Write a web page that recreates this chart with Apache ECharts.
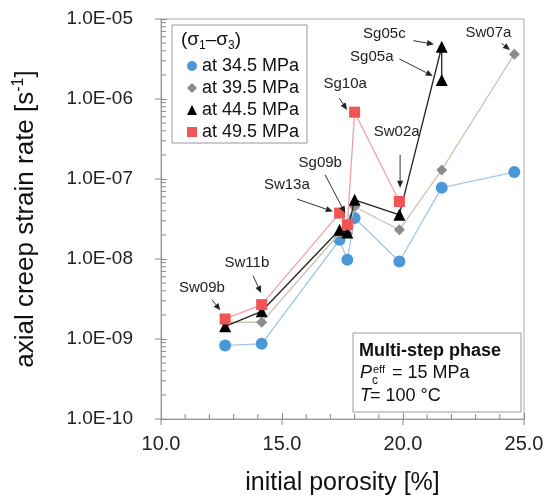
<!DOCTYPE html>
<html>
<head>
<meta charset="utf-8">
<script src="https://cdn.jsdelivr.net/npm/echarts@6/dist/echarts.min.js"></script>
<style>
html,body{margin:0;padding:0;background:#fff;}
#chart{width:548px;height:503px;}
</style>
</head>
<body>
<div id="chart"></div>
<script>
// ---- data ----
const sampleNames = ['Sw09b','Sw11b','Sw13a','Sg09b','Sg10a','Sw02a','Sg05c','Sg05a','Sw07a'];
const porosity    = [12.65, 14.16, 17.38, 17.7, 18.0, 19.85, 21.6, 21.6, 24.6];
const rate345 = [8.3e-10, 8.7e-10, 1.74e-8, 9.8e-9, 3.25e-8, 9.3e-9, null, 7.8e-8, 1.22e-7];
const rate395 = [1.62e-9, 1.62e-9, 2.1e-8, 2.1e-8, 4.5e-8, 2.32e-8, null, 1.30e-7, 3.63e-6];
const rate445 = [1.44e-9, 2.22e-9, 2.32e-8, 2.15e-8, 5.5e-8, 3.57e-8, 4.5e-6, 1.73e-6, null];
const rate495 = [1.78e-9, 2.69e-9, 3.75e-8, 2.68e-8, 6.84e-7, 5.24e-8, null, null, null];
const seriesNames = ['at 34.5 MPa','at 39.5 MPa','at 44.5 MPa','at 49.5 MPa'];
const xTicks = [10, 15, 20, 25];
const yTickExps = [-10, -9, -8, -7, -6, -5];

// annotation labels: [name, x, y] and arrows [x1, y1, x2, y2] (data space)
const labelPos = [
  ['Sw09b', 11.69, 4.35e-9], ['Sw11b', 13.55, 8.9e-9], ['Sw13a', 15.20, 8.47e-8],
  ['Sg09b', 16.58, 1.61e-7], ['Sg10a', 17.61, 1.55e-6], ['Sw02a', 19.74, 3.92e-7],
  ['Sg05c', 19.23, 6.44e-6], ['Sg05a', 18.71, 3.38e-6], ['Sw07a', 23.53, 6.63e-6]
];
const arrows = [
  [12.11, 3.1e-9, 12.45, 2.28e-9], [13.80, 6.19e-9, 14.14, 3.76e-9],
  [15.62, 5.61e-8, 17.10, 3.93e-8], [16.78, 1.13e-7, 17.61, 3.75e-8],
  [17.37, 1.02e-6, 17.69, 7.31e-7], [19.88, 2.0e-7, 19.88, 7.76e-8],
  [20.43, 5.36e-6, 21.28, 4.83e-6], [19.85, 3.17e-6, 21.23, 1.94e-6],
  [24.08, 4.97e-6, 24.42, 4.1e-6]
];

const FONT = 'Liberation Sans, Arial, Helvetica, sans-serif';

function pairs(vals){
  const out = [];
  for (let i = 0; i < vals.length; i++) if (vals[i] != null) out.push([porosity[i], vals[i]]);
  return out;
}

const styles = [
  {symbol:'circle',   size:12, color:'#4a98d8', line:'#a3c6e8'},
  {symbol:'diamond',  size:11, color:'#8c8c8c', line:'#cfc2b0'},
  {symbol:'triangle', size:12, color:'#000000', line:'#222222'},
  {symbol:'rect',     size:11, color:'#f05454', line:'#f3a0a0'}
];
const allRates = [rate345, rate395, rate445, rate495];

const series = allRates.map((r, i) => ({
  name: seriesNames[i],
  type: 'line',
  data: pairs(r),
  symbol: styles[i].symbol,
  symbolSize: styles[i].size,
  showAllSymbol: true,
  itemStyle: {color: styles[i].color, opacity: 1},
  lineStyle: {color: styles[i].line, width: 1.3},
  z: 3 + i
}));

series.push({
  name: 'annot',
  type: 'line',
  data: [],
  silent: true,
  markPoint: {
    silent: true,
    symbol: 'circle',
    symbolSize: 0,
    itemStyle: {color: 'transparent'},
    label: {show: true, position: 'inside', formatter: p => p.name,
            color: '#222', fontSize: 15, fontFamily: FONT},
    data: labelPos.map(l => ({name: l[0], coord: [l[1], l[2]]}))
  }
});

function fmtExp(v){
  const e = Math.round(Math.log10(v));
  return '1.0E' + (e < 0 ? '-' : '+') + String(Math.abs(e)).padStart(2, '0');
}

const staticGraphics = [
  {type: 'rect', shape: {x: 172, y: 25, width: 135, height: 118}, style: {fill: '#fff', stroke: '#999', lineWidth: 1}, z: 0},
  {type: 'text', x: 181, y: 40, style: {
    text: '{a|(σ}{b|1}{a|–σ}{b|3}{a|)}', verticalAlign: 'middle',
    rich: {a: {fontSize: 19, fontFamily: FONT, fill: '#111', lineHeight: 24},
           b: {fontSize: 12, fontFamily: FONT, fill: '#111', verticalAlign: 'bottom', lineHeight: 12}}
  }, z: 10},
  {type: 'rect', shape: {x: 353, y: 333, width: 168, height: 79}, style: {fill: '#fff', stroke: '#999', lineWidth: 1}, z: 10},
  {type: 'text', x: 359, y: 351, style: {text: 'Multi-step phase', font: 'bold 18px ' + FONT, fill: '#111', verticalAlign: 'middle'}, z: 11},
  {type: 'text', x: 360, y: 373, style: {text: 'P', font: 'italic 18px ' + FONT, fill: '#111', verticalAlign: 'middle'}, z: 11},
  {type: 'text', x: 373, y: 370, style: {text: 'eff', font: '11px ' + FONT, fill: '#111', verticalAlign: 'middle'}, z: 11},
  {type: 'text', x: 372, y: 381, style: {text: 'c', font: '12px ' + FONT, fill: '#111', verticalAlign: 'middle'}, z: 11},
  {type: 'text', x: 392, y: 373, style: {text: '= 15 MPa', font: '18px ' + FONT, fill: '#111', verticalAlign: 'middle'}, z: 11},
  {type: 'text', x: 360, y: 396, style: {text: 'T', font: 'italic 18px ' + FONT, fill: '#111', verticalAlign: 'middle'}, z: 11},
  {type: 'text', x: 370, y: 396, style: {text: '= 100 °C', font: '18px ' + FONT, fill: '#111', verticalAlign: 'middle'}, z: 11}
];

const chart = echarts.init(document.getElementById('chart'), null, {renderer: 'canvas'});
chart.setOption({
  animation: false,
  backgroundColor: '#fff',
  textStyle: {fontFamily: FONT},
  grid: {left: 161, right: 24, top: 19, bottom: 84, show: true, borderColor: '#aaa', borderWidth: 1},
  xAxis: {
    type: 'value', min: xTicks[0], max: xTicks[xTicks.length-1], interval: 5,
    name: 'initial porosity [%]', nameLocation: 'middle', nameGap: 52,
    nameTextStyle: {fontSize: 25, color: '#111', fontFamily: FONT},
    axisLine: {lineStyle: {color: '#999'}},
    axisTick: {inside: true, length: 6, lineStyle: {color: '#888'}},
    splitLine: {show: false},
    axisLabel: {fontSize: 20, color: '#222', margin: 15, formatter: v => v.toFixed(1)}
  },
  yAxis: {
    type: 'log', logBase: 10, min: Math.pow(10, yTickExps[0]), max: Math.pow(10, yTickExps[yTickExps.length-1]),
    name: '{a|axial creep strain rate [s}{s|-1}{a|]}', nameLocation: 'middle', nameGap: 120,
    nameTextStyle: {color: '#111', rich: {
      a: {fontSize: 26, fontFamily: FONT, color: '#111', lineHeight: 30},
      s: {fontSize: 16, fontFamily: FONT, color: '#111', verticalAlign: 'top', lineHeight: 16}
    }},
    axisLine: {lineStyle: {color: '#999'}},
    axisTick: {inside: true, length: 6, lineStyle: {color: '#888'}},
    splitLine: {show: false},
    axisLabel: {fontSize: 19, color: '#222', margin: 28, formatter: fmtExp}
  },
  legend: {
    orient: 'vertical', left: 182, top: 52, itemWidth: 10, itemHeight: 10, itemGap: 4,
    textStyle: {fontSize: 18, color: '#111', fontFamily: FONT},
    data: [
      {name: seriesNames[0], icon: 'circle'},
      {name: seriesNames[1], icon: 'diamond'},
      {name: seriesNames[2], icon: 'triangle'},
      {name: seriesNames[3], icon: 'rect'}
    ]
  },
  series: series
});

// extra graphics placed through the axes: ticks and annotation arrows
const extraG = [];
const tickStyle = {stroke: '#888888', lineWidth: 1};
function seg(x1, y1, x2, y2){
  extraG.push({type: 'line', silent: true, z: 50, shape: {x1: x1, y1: y1, x2: x2, y2: y2}, style: tickStyle});
}
const toPx = v => chart.convertToPixel({xAxisIndex: 0, yAxisIndex: 0}, v);
const xMin = xTicks[0], yMin = Math.pow(10, yTickExps[0]);
for (let n = 0; n < yTickExps.length; n++) {
  const base = Math.pow(10, yTickExps[n]);
  const p = toPx([xMin, base]);
  seg(p[0] - 6, p[1], p[0], p[1]);
  if (n < yTickExps.length - 1) {
    for (let k = 2; k <= 9; k++) {
      const q = toPx([xMin, k * base]);
      seg(q[0], q[1], q[0] + 5, q[1]);
    }
  }
}
for (let x = xTicks[0]; x <= xTicks[xTicks.length-1]; x++) {
  const p = toPx([x, yMin]);
  if (x % 5 === 0) seg(p[0], p[1], p[0], p[1] + 6);
  else seg(p[0], p[1], p[0], p[1] - 5);
}
arrows.forEach(a => {
  const p1 = toPx([a[0], a[1]]), p2 = toPx([a[2], a[3]]);
  const dx = p2[0] - p1[0], dy = p2[1] - p1[1];
  const L = Math.sqrt(dx*dx + dy*dy), ux = dx / L, uy = dy / L;
  const hl = 7, hw = 3;
  const bx = p2[0] - ux * hl, by = p2[1] - uy * hl;
  extraG.push({type: 'line', silent: true, z: 60,
    shape: {x1: p1[0], y1: p1[1], x2: bx, y2: by}, style: {stroke: '#333', lineWidth: 1}});
  extraG.push({type: 'polygon', silent: true, z: 60,
    shape: {points: [[p2[0], p2[1]], [bx - uy * hw, by + ux * hw], [bx + uy * hw, by - ux * hw]]},
    style: {fill: '#222'}});
});
chart.setOption({graphic: {elements: staticGraphics.concat(extraG)}});
</script>
</body>
</html>
